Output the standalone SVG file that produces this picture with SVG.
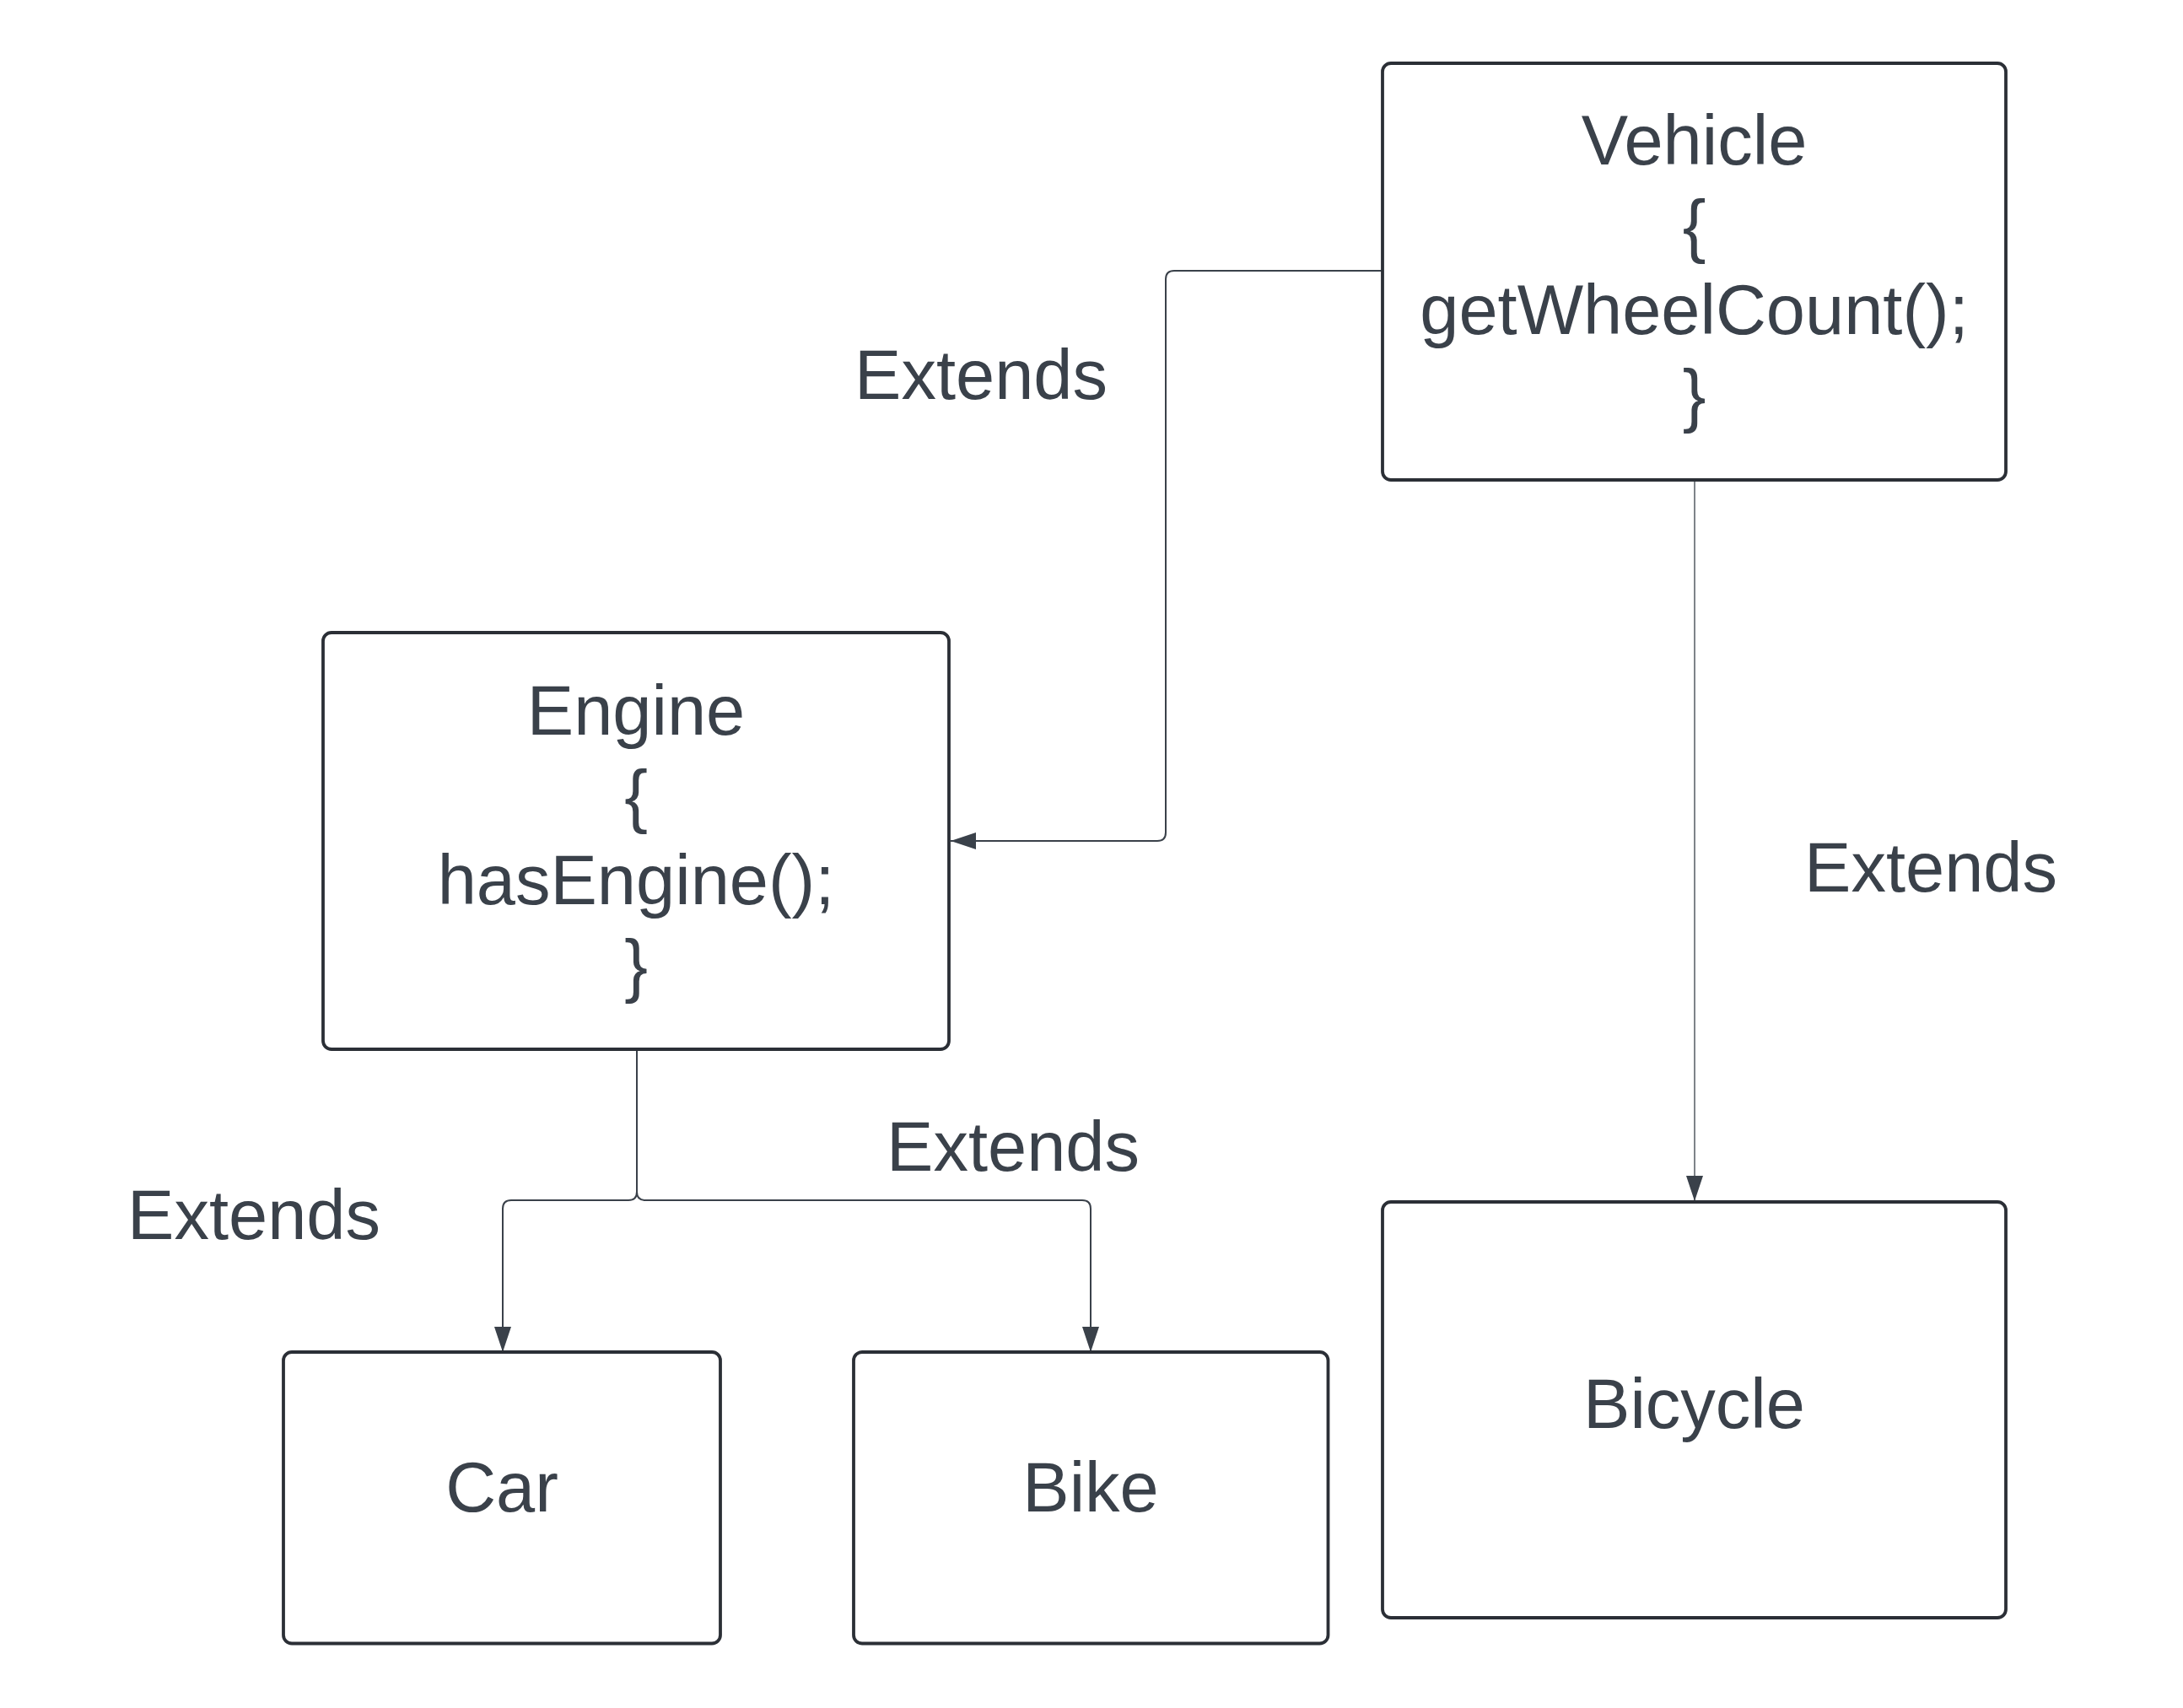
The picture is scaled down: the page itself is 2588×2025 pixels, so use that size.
<svg xmlns="http://www.w3.org/2000/svg" width="2588" height="2025" viewBox="0 0 2588 2025">
<style>
.box{fill:#ffffff;stroke:#2b2f36;stroke-width:3.8}
.t{font-family:"Liberation Sans",Arial,sans-serif;font-size:83px;fill:#3a414a;text-anchor:middle}
.c{fill:none;stroke:#3a414a;stroke-width:2}
.thin{stroke-width:1.3}
</style>
<defs>
<marker id="arr" viewBox="0 0 30 20" refX="30" refY="10" markerWidth="30" markerHeight="20" markerUnits="userSpaceOnUse" orient="auto">
<path d="M0,0 L30,10 L0,20 z" fill="#3a414a"/>
</marker>
</defs>
<rect width="2588" height="2025" fill="#ffffff"/>
<g id="connectors">
<path class="c" d="M1639 321 H1392 Q1382 321 1382 331 V987 Q1382 997 1372 997 H1127" marker-end="url(#arr)"/>
<path class="c thin" d="M2009 569 V1424" marker-end="url(#arr)"/>
<path class="c" d="M755 1245 V1413 Q755 1423 745 1423 H606 Q596 1423 596 1433 V1603" marker-end="url(#arr)"/>
<path class="c" d="M755 1245 V1413 Q755 1423 765 1423 H1283 Q1293 1423 1293 1433 V1603" marker-end="url(#arr)"/>
<text class="t" x="1163" y="473">Extends</text>
<text class="t" x="2289" y="1057">Extends</text>
<text class="t" x="1201" y="1388">Extends</text>
<text class="t" x="301" y="1469">Extends</text>
</g>
<g id="vehicle">
<rect class="box" x="1639" y="75" width="739" height="494" rx="10"/>
<text class="t" x="2008.5" y="195">Vehicle</text>
<text class="t" x="2008.5" y="296">{</text>
<text class="t" x="2008.5" y="396">getWheelCount();</text>
<text class="t" x="2008.5" y="497">}</text>
</g>
<g id="engine">
<rect class="box" x="383" y="750" width="742" height="494" rx="10"/>
<text class="t" x="754" y="871">Engine</text>
<text class="t" x="754" y="971.5">{</text>
<text class="t" x="754" y="1072">hasEngine();</text>
<text class="t" x="754" y="1172.5">}</text>
</g>
<g id="car">
<rect class="box" x="336" y="1603" width="518" height="345.5" rx="10"/>
<text class="t" x="595" y="1792">Car</text>
</g>
<g id="bike">
<rect class="box" x="1012" y="1603" width="562.5" height="345.5" rx="10"/>
<text class="t" x="1293" y="1792">Bike</text>
</g>
<g id="bicycle">
<rect class="box" x="1639" y="1425" width="739" height="493" rx="10"/>
<text class="t" x="2008.5" y="1693">Bicycle</text>
</g>
</svg>
